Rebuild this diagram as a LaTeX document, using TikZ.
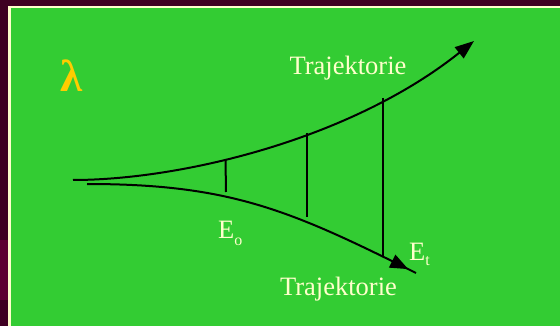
\documentclass[tikz,border=0pt]{standalone}
\usepackage{fontspec}
\setmainfont{Liberation Serif}
\usetikzlibrary{arrows.meta,decorations.markings}
\definecolor{bgmaroon}{HTML}{3F0022}
\definecolor{bgmaroonlight}{HTML}{5E0030}
\definecolor{slidegreen}{HTML}{33CC33}
\definecolor{cream}{HTML}{FFFFCC}
\definecolor{lamyellow}{HTML}{FFCC00}
\begin{document}
\begin{tikzpicture}[x=1pt,y=-1pt,
  traj/.style={line width=2pt, black},
  rung/.style={line width=2pt, black},
  lbl/.style={text=cream, inner sep=0pt, anchor=base, font=\fontsize{26.5}{30}\selectfont}
]
\useasboundingbox (0,0) rectangle (560,326);
% background
\fill[bgmaroon] (0,0) rectangle (560,326);
\fill[bgmaroonlight] (0,240) rectangle (8,300);
\fill[cream] (8,6) rectangle (560,326);
\fill[slidegreen] (10.5,8.5) rectangle (560,326);
% coordinates
\coordinate (u0) at (73,180);
\coordinate (u1) at (474,41);
\coordinate (l0) at (87,184);
\coordinate (l1) at (416,273);
\coordinate (a1) at (225.5,159.5);
\coordinate (b1) at (226,192);
\coordinate (a2) at (307,133);
\coordinate (b2) at (307,217.5);
\coordinate (a3) at (383,98);
\coordinate (b3) at (383,255.5);
% trajectories
\draw[traj, -{Triangle[length=19pt,width=14pt]}] (u0) .. controls (180,180) and (350,140) .. (u1);
\draw[traj, postaction={decorate}, decoration={markings, mark=at position 0.975 with {\arrow{Triangle[length=18pt,width=14pt]}}}]
  (l0) .. controls (230,184) and (290,210) .. (l1);
% rungs
\draw[rung] (a1) -- (b1);
\draw[rung] (a2) -- (b2);
\draw[rung] (a3) -- (b3);
% labels
\node[lbl] (tup) at (348,75) {Trajektorie};
\node[lbl] (tlo) at (338.5,295) {Trajektorie};
\node[lbl, anchor=base west] (eo) at (218,238) {E\raisebox{-7pt}{\fontsize{16}{16}\selectfont o}};
\node[lbl, anchor=base west] (et) at (409,260) {E\raisebox{-5pt}{\fontsize{16}{16}\selectfont t}};
\node[text=lamyellow, inner sep=0pt, anchor=base west, font=\fontsize{45}{48}\selectfont\bfseries] (lam) at (60,92) {λ};
\end{tikzpicture}
\end{document}
